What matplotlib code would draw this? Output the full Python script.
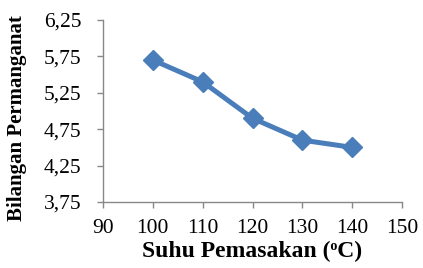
import matplotlib
matplotlib.use("Agg")
import matplotlib.pyplot as plt

suhu = [100, 110, 120, 130, 140]
bilangan = [5.70, 5.40, 4.90, 4.60, 4.50]
xticks = [90, 100, 110, 120, 130, 140, 150]
yticks = [3.75, 4.25, 4.75, 5.25, 5.75, 6.25]
ytick_labels = ["3,75", "4,25", "4,75", "5,25", "5,75", "6,25"]

plt.rcParams['font.family'] = ['Liberation Serif', 'DejaVu Serif']

fig = plt.figure(figsize=(4.23, 2.68), dpi=100)
ax = fig.add_axes([103/423, 1-202/268, (402-103)/423, (202-20)/268])

ax.plot(suhu, bilangan, color='#4a7ebb', lw=3.6, marker='D', ms=10,
        markerfacecolor='#4a7ebb', markeredgecolor='#4a7ebb')

ax.set_xlim(90, 150)
ax.set_ylim(3.75, 6.25)
ax.set_xticks(xticks)
ax.set_yticks(yticks)
ax.set_yticklabels(ytick_labels)
for s in ['top', 'right']:
    ax.spines[s].set_visible(False)
for s in ['left', 'bottom']:
    ax.spines[s].set_color('#888888')
    ax.spines[s].set_linewidth(1.0)
ax.tick_params(axis='both', colors='#888888', labelcolor='black', labelsize=15.5,
               direction='out', length=4.5, width=1.0)
ax.tick_params(axis='y', pad=11)
ax.tick_params(axis='x', pad=7.5)

ax.set_xlabel('Suhu Pemasakan (\u1d52C)', fontsize=17, fontweight='bold', labelpad=2)
ax.set_ylabel('Bilangan Permanganat', fontsize=15, fontweight='bold')
ax.yaxis.set_label_coords(-76/299, 0.46)

fig.savefig('out.png', dpi=100)
